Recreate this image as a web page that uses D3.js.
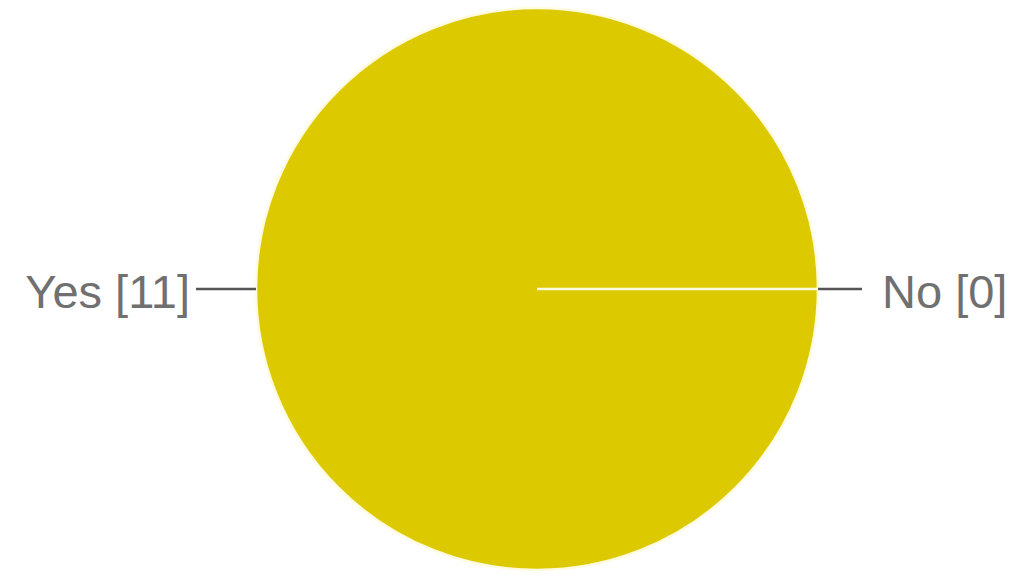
<!DOCTYPE html>
<html><head><meta charset="utf-8">
<script src="https://cdn.jsdelivr.net/npm/d3@7"></script>
<style>html,body{margin:0;padding:0;background:#fff;}svg{display:block;}</style>
</head><body>
<svg id="c" width="1014" height="578"></svg>
<script>
const categories = ["Yes", "No"];
const values = [11, 0];

const W = 1014, H = 578;
const cx = 537, cy = 289, R = 281;
const svg = d3.select("#c");
const g = svg.append("g").attr("transform", `translate(${cx},${cy})`);

const data = categories.map((c, i) => ({ label: c, value: values[i] }));
const pie = d3.pie().value(d => d.value).sort(null)
  .startAngle(Math.PI / 2).endAngle(Math.PI / 2 + 2 * Math.PI);
const arcs = pie(data);
const arc = d3.arc().innerRadius(0).outerRadius(R);
const color = d3.scaleOrdinal().domain(categories).range(["#ddc900", "#3366cc"]);

g.selectAll("path.slice").data(arcs).enter().append("path")
  .attr("class", "slice")
  .attr("d", arc)
  .attr("fill", d => color(d.data.label))
  .attr("stroke", "#fffbe0")
  .attr("stroke-width", 2.5);

// leader lines and labels
const lineLen = [60, 44];
const gap = [6, 20];
arcs.forEach((a, i) => {
  const mid = (a.startAngle + a.endAngle) / 2;
  const sx = Math.sin(mid), sy = -Math.cos(mid);
  const side = sx < 0 ? -1 : 1;
  const x0 = sx * R, y0 = sy * R;
  const x1 = x0 + side * lineLen[i];
  g.append("line")
    .attr("x1", x0).attr("y1", y0).attr("x2", x1).attr("y2", y0)
    .attr("stroke", "#555").attr("stroke-width", 2.5);
  g.append("text")
    .attr("x", x1 + side * gap[i])
    .attr("y", y0)
    .attr("dy", "0.4em")
    .attr("text-anchor", side < 0 ? "end" : "start")
    .attr("font-family", "Liberation Sans, Arial, sans-serif")
    .attr("font-size", 47)
    .attr("fill", "#707070")
    .text(`${a.data.label} [${a.data.value}]`);
});
</script>
</body></html>
